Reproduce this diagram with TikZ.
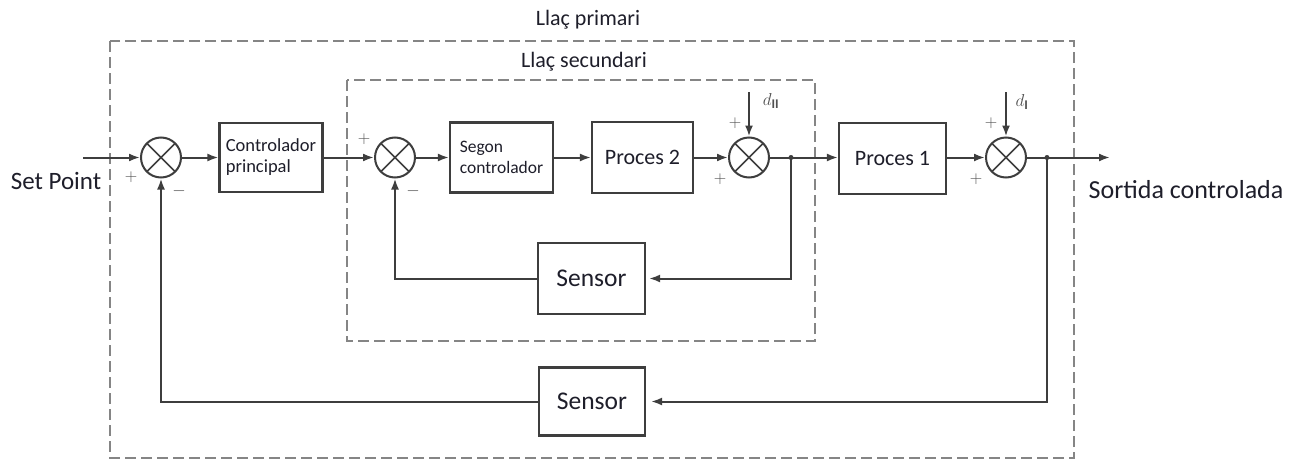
\documentclass[tikz,border=0pt]{standalone}
\usepackage{fontspec}
\setmainfont{Carlito}
\usetikzlibrary{arrows.meta}
\definecolor{wire}{HTML}{3E3E3E}
\definecolor{dashgrey}{HTML}{858585}
\definecolor{ink}{HTML}{1E1E2A}
\definecolor{signgrey}{HTML}{505050}

\newcommand{\fs}[1]{\fontsize{#1}{21}\selectfont}

\begin{document}
\begin{tikzpicture}[x=1pt,y=-1pt,
  wire/.style={draw=wire, line width=2pt},
  flow/.style={wire, -{Latex[length=11pt,width=8pt]}},
  block/.style={draw=wire, line width=2.2pt, fill=white, text=ink,
    align=left, inner sep=0pt},
  summer/.style={circle, draw=wire, line width=2pt, minimum size=40pt,
    inner sep=0pt, fill=white,
    path picture={\draw[wire, line width=1.6pt]
      (path picture bounding box.north west) -- (path picture bounding box.south east)
      (path picture bounding box.north east) -- (path picture bounding box.south west);}},
  loopbox/.style={draw=dashgrey, line width=1.7pt, dash pattern=on 11pt off 5pt},
  lbl/.style={text=ink, inner sep=0pt},
  sign/.style={text=signgrey, inner sep=0pt, font=\fontsize{17}{18}\selectfont},
  dist/.style={text=signgrey, inner sep=0pt, font=\fontsize{19}{20}\selectfont},
  branch/.style={circle, fill=wire, inner sep=0pt, minimum size=5pt}
]
\useasboundingbox (0,0) rectangle (1303,463);

% loop frames
\draw[loopbox] (110,41) rectangle (1074,458);
\draw[loopbox] (347,80) rectangle (815,341);
\node[lbl, anchor=base, font=\fs{22}] (tprim) at (588,25) {Llaç primari};
\node[lbl, anchor=base, font=\fs{22}] (tsec) at (584,67) {Llaç secundari};

% forward path
\node[summer] (s1) at (161,157.5) {};
\node[block, minimum width=103pt, minimum height=69pt, font=\fs{18.5}] (cp) at (271,157.5)
  {Controlador\\principal};
\node[summer] (s2) at (395,157.5) {};
\node[block, minimum width=103pt, minimum height=70pt, font=\fs{17.5}] (sc) at (501.5,157.5)
  {Segon\\controlador};
\node[block, minimum width=101pt, minimum height=71pt, font=\fs{22}] (p2) at (642.5,157.5)
  {Proces 2};
\node[summer] (s3) at (749,157.5) {};
\node[block, minimum width=107pt, minimum height=71pt, font=\fs{22}] (p1) at (892.5,158.5)
  {Proces 1};
\node[summer] (s4) at (1006,157.5) {};

% feedback sensors
\node[block, minimum width=107pt, minimum height=71pt, font=\fs{25.5}] (sin) at (591.5,278.5)
  {Sensor};
\node[block, minimum width=106pt, minimum height=68pt, font=\fs{25.5}] (sout) at (592,401.5)
  {Sensor};

% free ends and branch points
\coordinate (in) at (83,157.5);
\coordinate (out) at (1110,157.5);
\node[branch] (b2) at (791,157.5) {};
\node[branch] (b1) at (1047,157.5) {};
\coordinate (dII) at (749,92);
\coordinate (dI) at (1006,92);

% signals
\draw[flow] (in) -- (s1.west);
\draw[flow] (s1.east) -- (cp.west);
\draw[flow] (cp.east) -- (s2.west);
\draw[flow] (s2.east) -- (sc.west);
\draw[flow] (sc.east) -- (p2.west);
\draw[flow] (p2.east) -- (s3.west);
\draw[flow] (s3.east) -- (p1.west |- s3.east);
\draw[flow] (p1.east |- s4.west) -- (s4.west);
\draw[flow] (s4.east) -- (out);
\draw[flow] (dII) -- (s3.north);
\draw[flow] (dI) -- (s4.north);

% feedback paths
\draw[flow] (b2.center) |- ([xshift=3pt]sin.east);
\draw[flow] (sin.west) -| (s2.south);
\draw[flow] (b1.center) |- ([xshift=5pt]sout.east);
\draw[flow] (sout.west) -| (s1.south);

% signs at the summing junctions
\node[sign] (s1a) at (131,177) {$+$};
\node[sign] (s1b) at (179,191) {$-$};
\node[sign] (s2a) at (364,139) {$+$};
\node[sign] (s2b) at (413,191) {$-$};
\node[sign] (s3a) at (735,123) {$+$};
\node[sign] (s3b) at (720,179) {$+$};
\node[sign] (s4a) at (991,123) {$+$};
\node[sign] (s4b) at (976,179) {$+$};
\node[dist] (ldII) at (771,101) {$d_{\mathbf{II}}$};
\node[dist] (ldI) at (1022,102) {$d_{\mathbf{I}}$};

% terminal labels
\node[lbl, anchor=base, font=\fs{25}] (tin) at (56,189) {Set Point};
\node[lbl, anchor=base, font=\fs{26}] (tout) at (1186,198) {Sortida controlada};
\end{tikzpicture}
\end{document}
